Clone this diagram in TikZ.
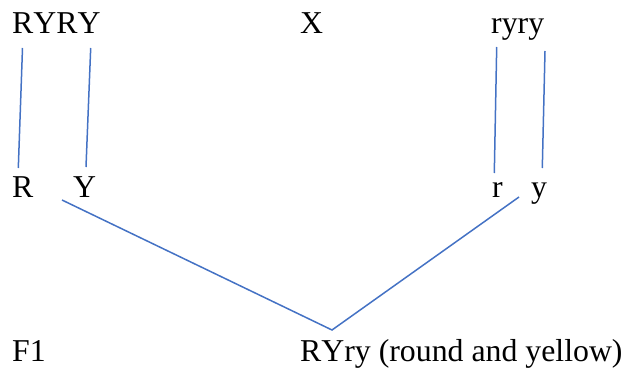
\documentclass[tikz,border=0pt]{standalone}
\usepackage{fontspec}
\setmainfont{Liberation Serif}[Kerning=Off]
\definecolor{lineblue}{HTML}{4472C4}
\begin{document}
\begin{tikzpicture}[x=1pt,y=-1pt,
  lbl/.style={anchor=base west,inner sep=0pt,font=\fontsize{31.8}{36}\selectfont},
  link/.style={draw=lineblue,line width=1.5pt}]
\useasboundingbox (0,0) rectangle (626,369);
\node[lbl] (p1) at (12,33.3) {RYRY};
\node[lbl] (x) at (300,33.3) {X};
\node[lbl] (p2) at (491,33.3) {ryry};
\node[lbl] (gR) at (12,197) {R};
\node[lbl] (gY) at (73,197) {Y};
\node[lbl] (gr) at (492,197) {r};
\node[lbl] (gy) at (531,197) {y};
\node[lbl] (f1) at (12,361.7) {F1};
\node[lbl] (off) at (300,361.7) {RYry (round and yellow)};
\coordinate (a1) at (22.5,48);
\coordinate (a2) at (18.3,168);
\coordinate (b1) at (90.7,48);
\coordinate (b2) at (86,167);
\coordinate (c1) at (496.7,47);
\coordinate (c2) at (494.3,173);
\coordinate (d1) at (545,51);
\coordinate (d2) at (542.3,168);
\coordinate (e1) at (62,200);
\coordinate (apex) at (332,330);
\coordinate (g1) at (519,197);
\draw[link] (a1) -- (a2);
\draw[link] (b1) -- (b2);
\draw[link] (c1) -- (c2);
\draw[link] (d1) -- (d2);
\draw[link] (e1) -- (apex) -- (g1);
\end{tikzpicture}
\end{document}
